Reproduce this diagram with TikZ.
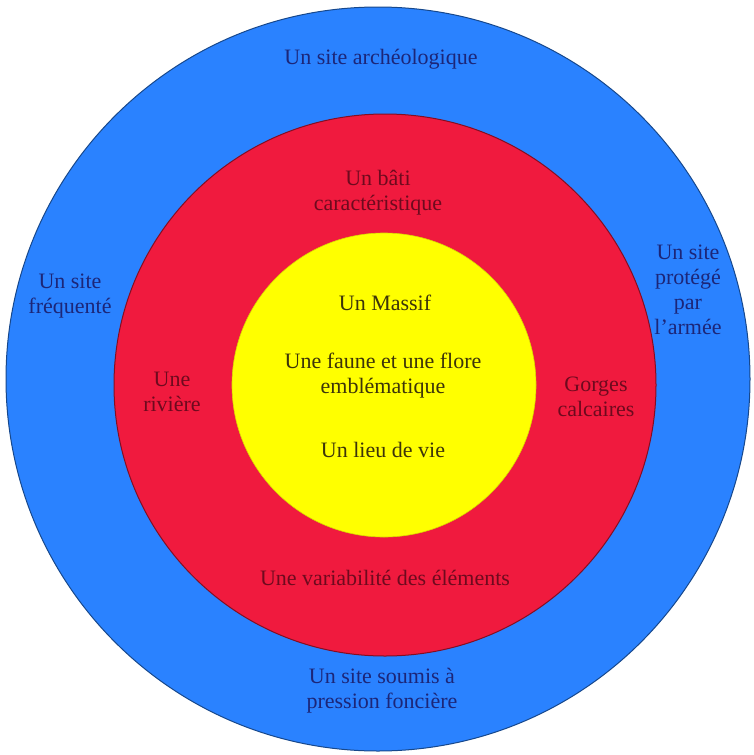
\documentclass[tikz,border=0pt]{standalone}
\usepackage{fontspec}
\setmainfont{Liberation Serif}
\usetikzlibrary{positioning}

\definecolor{ringblue}{RGB}{42,130,255}
\definecolor{ringred}{RGB}{240,26,62}
\definecolor{ringyellow}{RGB}{255,255,0}
\definecolor{txtblue}{RGB}{28,38,120}
\definecolor{txtred}{RGB}{110,10,30}
\definecolor{txtyellow}{RGB}{60,52,10}

\begin{document}
\begin{tikzpicture}[
  x=1pt, y=-1pt,
  every node/.style = {font=\fontsize{22}{25}\selectfont, align=center, inner sep=0pt},
  ring/.style  = {circle, draw=#1!55!black, fill=#1, line width=1pt},
  lbl/.style   = {text=#1},
]
\useasboundingbox (0,0) rectangle (754,755);
\fill[white] (0,0) rectangle (754,755);

%% ══ RINGS: outer → middle → core ═══════════════════════════════════════
\node[ring=ringblue,   minimum size=744pt] at (378,379) (outer) {};
\node[ring=ringred,    minimum size=542pt] at (385,385) (middle) {};
\node[ring=ringyellow, minimum size=304pt, draw=ringyellow!85!black,
      line width=0.6pt] at (384,385) (core) {};

%% ── Outer ring labels ───────────────────────────────────────────────────
\node[lbl=txtblue] at (381,59)  (archeo)   {Un site archéologique};
\node[lbl=txtblue] at (70,296)  (frequent) {Un site\\fréquenté};
\node[lbl=txtblue] at (688,290) (armee)    {Un site\\protégé\\par\\l'armée};
\node[lbl=txtblue] at (382,691) (fonciere) {Un site soumis à\\pression foncière};

%% ── Middle ring labels ──────────────────────────────────────────────────
\node[lbl=txtred] at (378,193) (bati)      {Un bâti\\caractéristique};
\node[lbl=txtred] at (172,392) (riviere)   {Une\\rivière};
\node[lbl=txtred] at (596,397) (gorges)    {Gorges\\calcaires};
\node[lbl=txtred] at (385,578) (variab)    {Une variabilité des éléments};

%% ── Core labels ─────────────────────────────────────────────────────────
\node[lbl=txtyellow] at (385,303) (massif)  {Un Massif};
\node[lbl=txtyellow] at (383,376) (faune)   {Une faune et une flore\\emblématique};
\node[lbl=txtyellow] at (383,450) (lieu)    {Un lieu de vie};

\end{tikzpicture}
\end{document}
